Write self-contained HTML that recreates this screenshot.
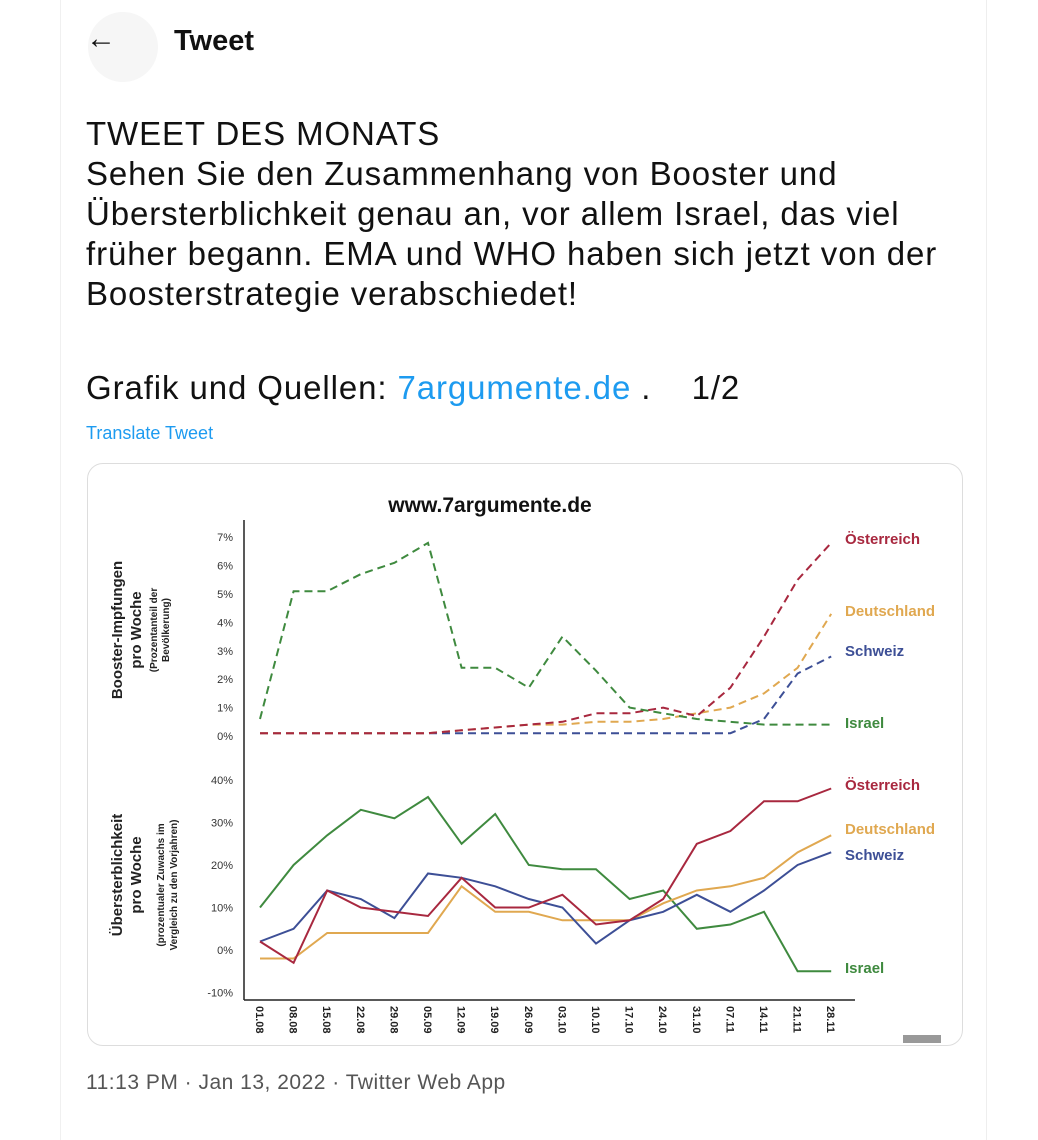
<!DOCTYPE html>
<html><head><meta charset="utf-8"><style>
html,body{margin:0;padding:0;background:#fff;}
body{width:1038px;height:1140px;position:relative;overflow:hidden;font-family:"Liberation Sans",sans-serif;}
.t{position:absolute;color:#111;white-space:nowrap;}
</style></head><body>
<div style="position:absolute;left:60px;top:0;width:1px;height:1140px;background:#f0f0f0"></div>
<div style="position:absolute;left:986px;top:0;width:1px;height:1140px;background:#eee"></div>
<div style="position:absolute;left:88px;top:12px;width:70px;height:70px;border-radius:50%;background:#f6f6f6"></div>
<div class="t" style="left:86px;top:22px;font-size:30px;">&#8592;</div>
<div class="t" style="left:174px;top:25px;font-size:29px;font-weight:bold;">Tweet</div>
<div class="t" style="left:86px;top:114px;font-size:33px;letter-spacing:0.9px;line-height:40px;width:900px;">TWEET DES MONATS<br>Sehen Sie den Zusammenhang von Booster und<br>Übersterblichkeit genau an, vor allem Israel, das viel<br>früher begann. EMA und WHO haben sich jetzt von der<br>Boosterstrategie verabschiedet!</div>
<div class="t" style="left:86px;top:369px;font-size:33px;letter-spacing:0.9px;">Grafik und Quellen: <span style="color:#1d9bf0">7argumente.de</span> .&nbsp;&nbsp;&nbsp; 1/2</div>
<div class="t" style="left:86px;top:423px;font-size:18px;color:#1d9bf0;">Translate Tweet</div>
<div style="position:absolute;left:87px;top:463px;width:874px;height:581px;border:1px solid #ddd;border-radius:16px;"></div>
<div style="position:absolute;left:903px;top:1035px;width:38px;height:8px;background:#999"></div>
<div class="t" style="left:86px;top:1071px;font-size:21px;letter-spacing:0.5px;color:#555;">11:13 PM · Jan 13, 2022 · Twitter Web App</div>
<svg id="s" width="1038" height="1140" style="position:absolute;left:0;top:0" font-family="Liberation Sans, sans-serif"></svg>
<script>
var s=document.getElementById('s'),h='';
h+='<text x="490" y="512" font-size="21" font-weight="bold" text-anchor="middle" fill="#111">www.7argumente.de</text>';
h+='<line x1="244" y1="520" x2="244" y2="1000" stroke="#222" stroke-width="1.5"/><line x1="244" y1="1000" x2="855" y2="1000" stroke="#222" stroke-width="1.5"/>';
function X(i){return 260+i*33.6}
function Yt(v){return 736-v*28.4}
function Yb(v){return 950-v*4.25}
for(var k=0;k<=7;k++)h+='<text x="233" y="'+(Yt(k)+4)+'" font-size="11" text-anchor="end" fill="#333">'+k+'%</text>';
for(var k=-10;k<=40;k+=10)h+='<text x="233" y="'+(Yb(k)+4)+'" font-size="11" text-anchor="end" fill="#333">'+k+'%</text>';
var d=['01.08','08.08','15.08','22.08','29.08','05.09','12.09','19.09','26.09','03.10','10.10','17.10','24.10','31.10','07.11','14.11','21.11','28.11'];
d.forEach(function(t,i){h+='<text transform="translate('+(X(i)-4)+',1006) rotate(90)" font-size="11" font-weight="bold" fill="#222">'+t+'</text>';});
h+='<text transform="translate(122,630) rotate(-90)" font-size="15" font-weight="bold" text-anchor="middle" fill="#222">Booster-Impfungen</text>';
h+='<text transform="translate(141,630) rotate(-90)" font-size="15" font-weight="bold" text-anchor="middle" fill="#222">pro Woche</text>';
h+='<text transform="translate(157,630) rotate(-90)" font-size="10" font-weight="bold" text-anchor="middle" fill="#222">(Prozentanteil der</text>';
h+='<text transform="translate(169,630) rotate(-90)" font-size="10" font-weight="bold" text-anchor="middle" fill="#222">Bevölkerung)</text>';
h+='<text transform="translate(122,875) rotate(-90)" font-size="15" font-weight="bold" text-anchor="middle" fill="#222">Übersterblichkeit</text>';
h+='<text transform="translate(141,875) rotate(-90)" font-size="15" font-weight="bold" text-anchor="middle" fill="#222">pro Woche</text>';
h+='<text transform="translate(164,885) rotate(-90)" font-size="10" font-weight="bold" text-anchor="middle" fill="#222">(prozentualer Zuwachs im</text>';
h+='<text transform="translate(177,885) rotate(-90)" font-size="10" font-weight="bold" text-anchor="middle" fill="#222">Vergleich zu den Vorjahren)</text>';
var C={a:'#a8283f',d:'#e0a850',s:'#3d4f96',i:'#3f8a3f'};
function line(a,Y,c,dash){var p=a.map(function(v,i){return X(i).toFixed(1)+','+Y(v).toFixed(1)}).join(' ');h+='<polyline points="'+p+'" fill="none" stroke="'+c+'" stroke-width="2"'+(dash?' stroke-dasharray="8,5"':'')+'/>';}
line([.1,.1,.1,.1,.1,.1,.1,.1,.1,.1,.1,.1,.1,.1,.1,.6,2.2,2.8],Yt,C.s,1);
line([.1,.1,.1,.1,.1,.1,.2,.3,.4,.4,.5,.5,.6,.8,1,1.5,2.4,4.3],Yt,C.d,1);
line([.1,.1,.1,.1,.1,.1,.2,.3,.4,.5,.8,.8,1,.7,1.7,3.5,5.5,6.8],Yt,C.a,1);
line([.6,5.1,5.1,5.7,6.1,6.8,2.4,2.4,1.7,3.5,2.3,1,.8,.6,.5,.4,.4,.4],Yt,C.i,1);
line([10,20,27,33,31,36,25,32,20,19,19,12,14,5,6,9,-5,-5],Yb,C.i,0);
line([-2,-2,4,4,4,4,15,9,9,7,7,7,11,14,15,17,23,27],Yb,C.d,0);
line([2,5,14,12,7.5,18,17,15,12,10,1.5,7,9,13,9,14,20,23],Yb,C.s,0);
line([2,-3,14,10,9,8,17,10,10,13,6,7,12,25,28,35,35,38],Yb,C.a,0);
function lab(t,x,y,c){h+='<text x="'+x+'" y="'+y+'" font-size="15" font-weight="bold" fill="'+c+'">'+t+'</text>';}
lab('Österreich',845,544,C.a);lab('Deutschland',845,616,C.d);lab('Schweiz',845,656,C.s);lab('Israel',845,728,C.i);
lab('Österreich',845,790,C.a);lab('Deutschland',845,834,C.d);lab('Schweiz',845,860,C.s);lab('Israel',845,973,C.i);
s.innerHTML=h;
</script>
</body></html>
